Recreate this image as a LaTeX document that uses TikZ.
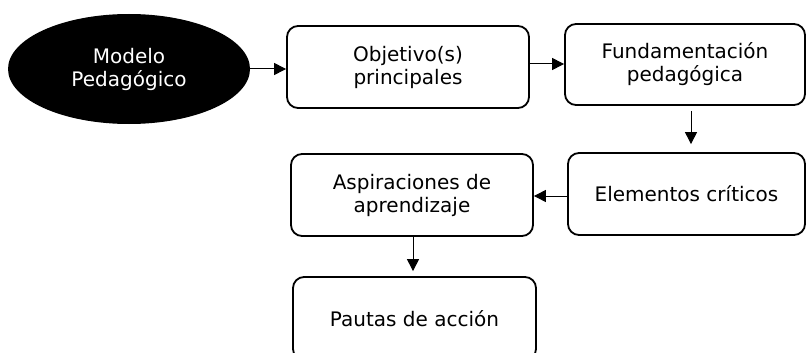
\documentclass[tikz,border=0pt]{standalone}
\usepackage{fontspec}
\setmainfont{DejaVu Sans}
\usetikzlibrary{shapes.geometric,arrows.meta}
\begin{document}
\begin{tikzpicture}[x=1pt,y=-1pt,
  box/.style={draw=black,line width=1.8pt,rounded corners=11pt,fill=white,
    align=center,inner sep=0pt,font=\fontsize{20}{23}\selectfont},
  arr/.style={line width=1pt,-{Triangle[length=12pt,width=12pt]}}]
\useasboundingbox (0,0) rectangle (806,353);
\node[ellipse,fill=black,text=white,minimum width=242pt,minimum height=110pt,
  inner sep=0pt,align=center,font=\fontsize{20}{23}\selectfont] (mod) at (129,69) {Modelo\\Pedagógico};
\node[box,minimum width=242pt,minimum height=82pt] (obj) at (408,67) {Objetivo(s)\\principales};
\node[box,minimum width=240pt,minimum height=81pt] (fund) at (685,64.5) {Fundamentación\\pedagógica};
\node[box,minimum width=237pt,minimum height=82pt] (elem) at (686.5,194) {Elementos críticos};
\node[box,minimum width=242pt,minimum height=82pt] (asp) at (412,195) {Aspiraciones de\\aprendizaje};
\node[box,minimum width=243pt,minimum height=83pt] (paut) at (414.5,318.5) {Pautas de acción};
\draw[arr] (mod.east) -- (obj.west |- mod.east);
\draw[arr] (obj.east |- 0,64) -- (fund.west |- 0,64);
\draw[arr,shorten <=5pt,shorten >=8pt] (fund.south -| 691,0) -- (elem.north -| 691,0);
\draw[arr] (elem.west |- 0,196) -- (asp.east |- 0,196);
\draw[arr,shorten >=5pt] (asp.south -| 413,0) -- (paut.north -| 413,0);
\end{tikzpicture}
\end{document}
